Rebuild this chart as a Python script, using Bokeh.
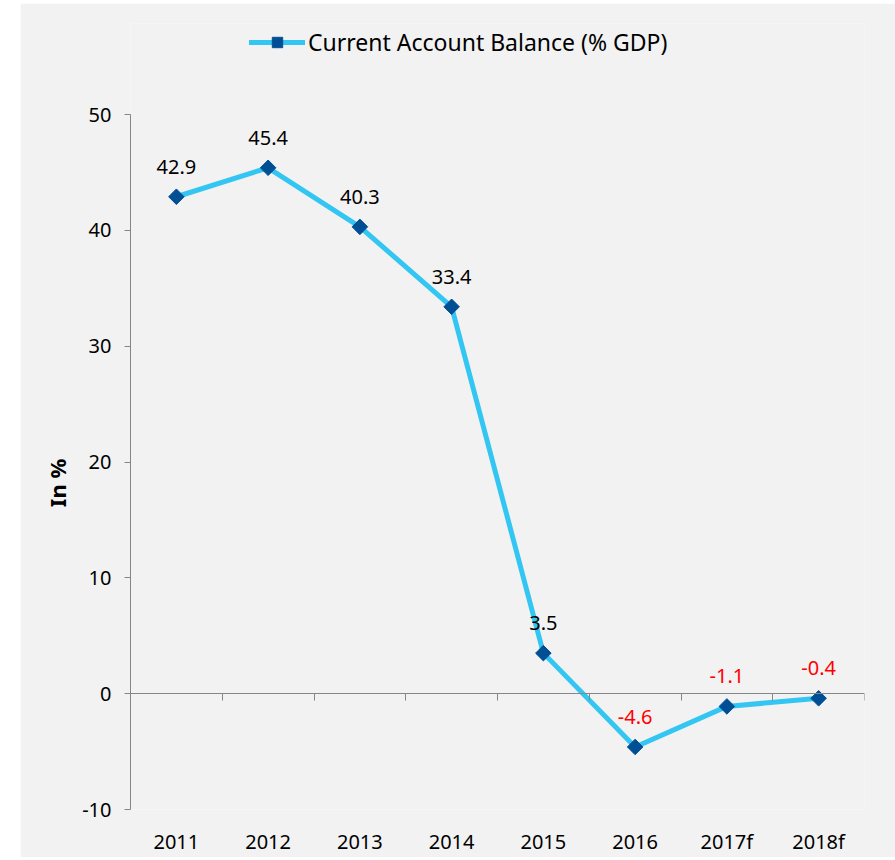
import math
from bokeh.plotting import figure
from bokeh.models import (ColumnDataSource, Range1d, LinearAxis, FixedTicker, LabelSet,
                          Legend, LegendItem, Spacer, Title)
from bokeh.layouts import row, column
from bokeh.core.properties import value
from bokeh.embed import file_html
from bokeh.resources import INLINE

categories = ["2011", "2012", "2013", "2014", "2015", "2016", "2017f", "2018f"]
balance = [42.9, 45.4, 40.3, 33.4, 3.5, -4.6, -1.1, -0.4]
y_ticks = [-10, 0, 10, 20, 30, 40, 50]
series_name = "Current Account Balance (% GDP)"
y_label = "In %"

FONT = "Noto Sans"
BG = "#f2f2f2"
AXIS = "#868686"

# layout geometry (pixels)
TOP_BORDER = 20          # frame top; the legend lives in the frame above the axis
AXIS_TOP_GAP = 91        # pixels between frame top and the "50" tick
AXIS_SPAN_PX = 695       # pixels between the -10 and 50 ticks
y_lo, y_hi = y_ticks[0], y_ticks[-1]
y_top = y_hi + AXIS_TOP_GAP * (y_hi - y_lo) / AXIS_SPAN_PX
FRAME_H = AXIS_TOP_GAP + AXIS_SPAN_PX

xs = [i + 0.5 for i in range(len(categories))]
src = ColumnDataSource(dict(
    x=xs, y=balance,
    txt=[f"{v:.1f}" for v in balance],
    col=["#ff0000" if v < 0 else "#000000" for v in balance],
))

p = figure(width=875, height=TOP_BORDER + FRAME_H + 48, output_backend="svg", toolbar_location=None,
           x_range=Range1d(0, len(categories)), y_range=Range1d(y_lo, y_top),
           x_axis_type=None, y_axis_type=None,
           min_border_left=110, min_border_right=31, min_border_top=TOP_BORDER, min_border_bottom=40)
p.background_fill_color = BG
p.border_fill_color = BG
p.outline_line_color = None
p.xgrid.visible = False
p.ygrid.visible = False

# y axis
yax = LinearAxis(ticker=FixedTicker(ticks=y_ticks), bounds=(y_lo, y_hi),
                 major_label_overrides={t: str(t) for t in y_ticks})
yax.axis_line_color = AXIS
yax.major_tick_line_color = AXIS
yax.major_tick_in = 0
yax.major_tick_out = 6
yax.minor_tick_line_color = None
yax.major_label_text_font = FONT
yax.major_label_text_font_size = "20px"
yax.major_label_text_color = "#000000"
yax.major_label_standoff = 13
p.add_layout(yax, "left")

# y axis title, centred on the axis span rather than on the whole frame
p.add_layout(Title(text=y_label, align="left", offset=AXIS_SPAN_PX * 0.435, standoff=15,
                   text_font=FONT, text_font_style="bold", text_font_size="22px",
                   text_color="#000000"), "left")

# x axis line at zero with boundary ticks
x0ax = LinearAxis(ticker=FixedTicker(ticks=list(range(len(categories) + 1))), fixed_location=0)
x0ax.axis_line_color = AXIS
x0ax.major_tick_line_color = AXIS
x0ax.major_tick_in = 0
x0ax.major_tick_out = 7
x0ax.minor_tick_line_color = None
x0ax.major_label_text_font_size = "0px"
x0ax.major_label_text_alpha = 0
x0ax.major_label_standoff = 0
p.add_layout(x0ax, "below")

# category labels at the bottom
xlab = LinearAxis(ticker=FixedTicker(ticks=xs),
                  major_label_overrides={x: c for x, c in zip(xs, categories)})
xlab.axis_line_color = None
xlab.major_tick_line_color = None
xlab.minor_tick_line_color = None
xlab.major_tick_out = 0
xlab.major_tick_in = 0
xlab.major_label_text_font = FONT
xlab.major_label_text_font_size = "20px"
xlab.major_label_text_color = "#000000"
xlab.major_label_standoff = 18
p.add_layout(xlab, "below")

ln = p.line("x", "y", source=src, line_color="#33c6f2", line_width=5, line_join="round",
            line_cap="round")
mk = p.scatter("x", "y", source=src, marker="square", size=11, angle=math.pi / 4,
               fill_color="#004f95", line_color="#004f95")

labels = LabelSet(x="x", y="y", text="txt", source=src, text_color="col",
                  text_font=value(FONT), text_font_size="20px", text_align="center",
                  text_baseline="middle", y_offset=30)
p.add_layout(labels)

legend = Legend(items=[LegendItem(label=series_name, renderers=[ln, mk])],
                location=(119, FRAME_H - 35), orientation="horizontal",
                background_fill_alpha=0, border_line_color=None,
                glyph_width=56, glyph_height=26, label_standoff=3,
                padding=0, margin=0, spacing=0,
                label_text_font=FONT, label_text_font_size="23px",
                label_text_color="#000000")
p.add_layout(legend)

layout = column(Spacer(height=3, width=895), row(Spacer(width=20, height=p.height), p))
open("out.html", "w").write(file_html(layout, INLINE))
